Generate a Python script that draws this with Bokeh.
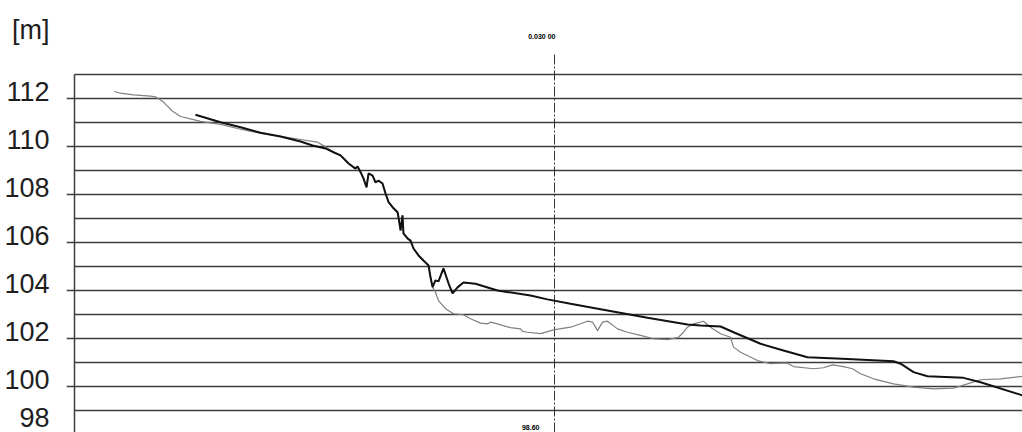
from bokeh.plotting import figure
from bokeh.models import FixedTicker, Range1d
from bokeh.core.properties import value
from bokeh.embed import file_html
from bokeh.resources import INLINE

# ---- data (station [m], elevation [m]) ----
ground_x = [2.5, 2.88, 3.69, 4.75, 5.06, 5.56, 6.13, 6.63, 7.25, 7.88, 9.13, 10.38, 11.63, 12.88,
            14.13, 15.19, 15.56, 16.19, 16.63, 17.13, 17.56, 17.69, 17.88, 18.06, 18.25, 18.38,
            18.63, 18.81, 19.0, 19.25, 19.44, 19.63, 19.88, 20.19, 20.25, 20.38, 20.5, 20.56,
            20.81, 21.0, 21.19, 21.5, 21.81, 22.13, 22.25, 22.38, 22.56, 22.75, 23.19, 23.69,
            24.31, 24.75, 25.38, 25.81, 26.0, 26.44, 27.25, 27.88, 28.0, 28.31, 29.13, 29.94,
            31.0, 32.06, 32.38, 32.69, 33.0, 33.31, 33.94, 34.56, 35.38, 36.19, 37.06, 37.75,
            38.06, 38.31, 38.69, 39.31, 39.75, 40.38, 41.0, 41.19, 41.63, 42.69, 43.5, 44.13,
            44.56, 44.94, 46.19, 46.81, 47.38, 48.06, 48.63, 49.13, 49.94, 51.19, 52.44, 53.69,
            54.94, 55.81, 56.63, 57.88, 59.25]
ground_y = [112.29, 112.22, 112.15, 112.10, 112.07, 111.85, 111.47, 111.25, 111.15, 111.05, 110.92,
            110.72, 110.55, 110.42, 110.29, 110.18, 110.04, 109.76, 109.63, 109.29, 109.08, 109.17,
            108.93, 108.67, 108.30, 108.88, 108.79, 108.51, 108.58, 108.46, 108.04, 107.68, 107.47,
            107.26, 107.05, 106.50, 107.13, 106.38, 106.17, 106.08, 105.75, 105.46, 105.25, 105.04,
            104.55, 104.14, 103.93, 103.58, 103.24, 103.03, 102.99, 102.82, 102.64, 102.61, 102.68,
            102.61, 102.45, 102.40, 102.30, 102.26, 102.20, 102.36, 102.47, 102.72, 102.68, 102.33,
            102.68, 102.72, 102.40, 102.26, 102.13, 101.99, 101.95, 102.05, 102.26, 102.47, 102.61,
            102.72, 102.47, 102.20, 102.05, 101.64, 101.43, 101.08, 100.95, 100.97, 100.97, 100.83,
            100.74, 100.78, 100.90, 100.83, 100.74, 100.53, 100.32, 100.11, 99.97, 99.90, 99.93,
            100.11, 100.28, 100.32, 100.42]

design_x = [7.56, 9.13, 10.38, 11.63, 12.88, 14.13, 14.88, 15.69, 16.19, 16.63, 17.13, 17.56, 17.69,
            17.88, 18.06, 18.25, 18.38, 18.63, 18.81, 19.0, 19.25, 19.44, 19.63, 19.88, 20.19,
            20.25, 20.38, 20.5, 20.56, 20.81, 21.0, 21.19, 21.5, 21.81, 22.13, 22.25, 22.38,
            22.56, 22.75, 23.06, 23.38, 23.63, 23.94, 24.31, 25.06, 26.44, 28.5, 29.56, 31.0,
            33.31, 35.81, 38.31, 39.13, 40.38, 41.19, 42.88, 44.31, 45.81, 48.31, 51.19, 51.63,
            52.44, 53.31, 55.56, 56.63, 59.25]
design_y = [111.32, 111.01, 110.80, 110.57, 110.42, 110.21, 110.04, 109.92, 109.76, 109.63, 109.29,
            109.08, 109.17, 108.93, 108.67, 108.30, 108.88, 108.79, 108.51, 108.58, 108.46, 108.04,
            107.68, 107.47, 107.26, 107.05, 106.50, 107.13, 106.38, 106.17, 106.08, 105.75, 105.46,
            105.25, 105.04, 104.55, 104.14, 104.42, 104.38, 104.92, 104.29, 103.88, 104.13, 104.33,
            104.28, 104.00, 103.79, 103.63, 103.45, 103.17, 102.86, 102.58, 102.54, 102.50, 102.26,
            101.78, 101.50, 101.22, 101.15, 101.05, 100.95, 100.60, 100.43, 100.36, 100.18, 99.63]

major_levels = [98, 100, 102, 104, 106, 108, 110, 112]
major_labels = ["98", "100", "102", "104", "106", "108", "110", "112"]
minor_levels = [99, 101, 103, 105, 107, 109, 111, 113]
unit_label = "[m]"
unit_label_level = 114.87
marker_station = 30.0
marker_top_label = "0.030 00"
marker_bottom_label = "98.60"

# ---- layout / style constants ----
Y_BOTTOM, Y_TOP = 98.083, 116.083
X_LEFT, X_RIGHT = -0.5, 59.25
LABEL_LIFT = 0.25          # labels sit slightly above their line (CAD style)
TICK_START = -0.5          # major lines start 8px left of the frame border
FRAME_TOP = 113
FONT = "Liberation Sans"
LINE_COL = "#3c3c3c"

p = figure(width=1022, height=432, output_backend="svg", toolbar_location=None,
           x_range=Range1d(X_LEFT, X_RIGHT), y_range=Range1d(Y_BOTTOM, Y_TOP),
           x_axis_location=None, min_border_left=66, min_border_right=0,
           min_border_top=0, min_border_bottom=0)
p.outline_line_color = None
p.grid.visible = False

# y axis: labels only (lines are drawn as the CAD grid below)
label_pos = [v + LABEL_LIFT for v in major_levels] + [unit_label_level]
ax = p.yaxis[0]
ax.ticker = FixedTicker(ticks=label_pos)
ax.major_label_overrides = {**{pos: lab for pos, lab in zip(label_pos, major_labels)},
                            unit_label_level: unit_label}
ax.axis_line_color = None
ax.major_tick_line_color = None
ax.minor_tick_line_color = None
ax.major_tick_in = 0
ax.major_tick_out = 0
ax.major_label_standoff = 17
ax.major_label_text_font = FONT
ax.major_label_text_font_size = "27px"
ax.major_label_text_color = "#1e1e1e"

# CAD grid: minor lines from the border, major lines with an 8px tick stub
p.segment(x0=[0] * len(minor_levels), y0=minor_levels, x1=[X_RIGHT] * len(minor_levels),
          y1=minor_levels, line_color=LINE_COL, line_width=1.5)
p.segment(x0=[TICK_START] * len(major_levels), y0=major_levels,
          x1=[X_RIGHT] * len(major_levels), y1=major_levels, line_color=LINE_COL, line_width=1.5)
# left border of the profile frame
p.line(x=[0, 0], y=[Y_BOTTOM, FRAME_TOP], line_color=LINE_COL, line_width=1.5)

# station marker
p.line(x=[marker_station, marker_station], y=[Y_BOTTOM, 113.92], line_color="#333333",
       line_width=1, line_dash="10 2 2 2")
p.text(x=[marker_station + 0.06], y=[114.6], text=[marker_top_label], text_font=value(FONT),
       text_font_size="7px", text_font_style="bold", text_align="right",
       text_baseline="middle", text_color="#000000")
p.text(x=[marker_station - 0.94], y=[98.28], text=[marker_bottom_label], text_font=value(FONT),
       text_font_size="7px", text_font_style="bold", text_align="right",
       text_baseline="middle", text_color="#000000")

# profiles
p.line(ground_x, ground_y, line_color="#808080", line_width=1.2)
p.line(design_x, design_y, line_color="#111111", line_width=2)

open("out.html", "w").write(file_html(p, INLINE))
